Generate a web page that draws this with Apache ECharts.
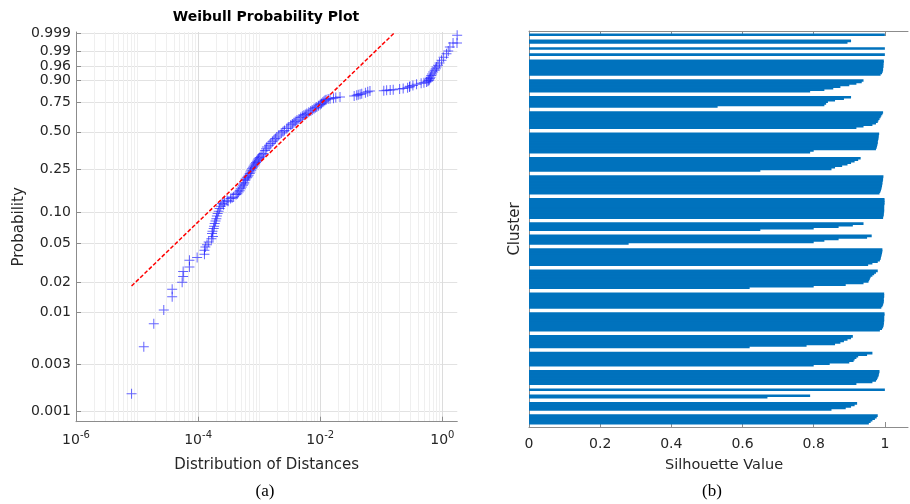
<!DOCTYPE html>
<html><head><meta charset="utf-8">
<script src="https://cdn.jsdelivr.net/npm/echarts@6/dist/echarts.min.js"></script>
<style>html,body{margin:0;padding:0;background:#fff}#c{width:910px;height:504px}</style>
</head><body><div id="c"></div>
<script>
// ---------- (a) Weibull probability plot data ----------
const distances = [
  8.13e-6, 1.29e-5, 1.88e-5, 2.74e-5, 3.76e-5, 3.76e-5, 5.48e-5, 5.69e-5, 5.69e-5, 7.21e-5,
  7.21e-5, 9.64e-5, 1.27e-4, 1.27e-4, 1.315e-4, 1.40e-4, 1.49e-4, 1.65e-4, 1.75e-4, 1.69e-4,
  1.72e-4, 1.80e-4, 1.83e-4, 1.87e-4, 1.93e-4, 1.99e-4, 2.03e-4, 2.09e-4, 2.17e-4, 2.25e-4,
  2.35e-4, 2.47e-4, 2.70e-4, 2.98e-4, 3.40e-4, 3.82e-4, 4.20e-4, 4.60e-4, 5.00e-4, 5.43e-4,
  5.70e-4, 5.93e-4, 6.30e-4, 6.71e-4, 7.20e-4, 7.62e-4, 8.10e-4, 8.63e-4, 9.20e-4, 9.77e-4,
  1.07e-3, 1.18e-3, 1.25e-3, 1.34e-3, 1.55e-3, 1.75e-3, 1.95e-3, 2.30e-3, 2.60e-3, 2.84e-3,
  3.30e-3, 3.70e-3, 4.15e-3, 4.80e-3, 5.40e-3, 6.04e-3, 7.00e-3, 7.90e-3, 8.79e-3, 0.0100,
  0.0110, 0.0120, 0.0125, 0.0135, 0.0145, 0.0165, 0.0180, 0.0211, 0.0360, 0.0396,
  0.0420, 0.0450, 0.0479, 0.0550, 0.0600, 0.0653, 0.110, 0.1225, 0.140, 0.157,
  0.200, 0.2286, 0.270, 0.290, 0.2944, 0.330, 0.3786, 0.450, 0.500, 0.552,
  0.580, 0.600, 0.610, 0.625, 0.640, 0.660, 0.680, 0.708, 0.750, 0.780,
  0.804, 0.850, 0.900, 0.970, 1.050, 1.170, 1.250, 1.330, 1.500, 1.740, 1.750,
  2.6e-4, 3.1e-4, 3.6e-4, 4.4e-4, 4.8e-4, 5.2e-4, 5.6e-4,
  6.0e-4, 6.5e-4, 7.0e-4, 7.4e-4, 7.9e-4, 8.4e-4, 8.9e-4, 9.5e-4, 1.02e-3, 1.12e-3,
  1.30e-3, 1.45e-3, 1.65e-3, 1.85e-3, 2.10e-3, 2.45e-3, 3.00e-3, 3.50e-3, 3.90e-3, 4.50e-3,
  5.10e-3, 5.70e-3, 6.50e-3, 7.40e-3, 8.30e-3, 9.40e-3, 0.0105, 0.0115
];
const probabilities = [
  0.0015, 0.0045, 0.0077, 0.0106, 0.0144, 0.0172, 0.0202, 0.0231, 0.0259, 0.0287,
  0.0335, 0.0357, 0.0385, 0.0422, 0.0455, 0.048, 0.0510, 0.0551, 0.058, 0.0618,
  0.065, 0.0692, 0.073, 0.0775, 0.082, 0.0866, 0.092, 0.0969, 0.102, 0.1082,
  0.114, 0.1208, 0.125, 0.130, 0.135, 0.1396, 0.147, 0.1555, 0.167, 0.1794,
  0.189, 0.1993, 0.210, 0.2211, 0.237, 0.2534, 0.266, 0.280, 0.294, 0.3088,
  0.324, 0.340, 0.360, 0.3842, 0.410, 0.435, 0.458, 0.490, 0.510, 0.526,
  0.555, 0.575, 0.596, 0.620, 0.640, 0.654, 0.675, 0.695, 0.710, 0.730,
  0.750, 0.765, 0.770, 0.775, 0.778, 0.782, 0.786, 0.791, 0.799, 0.8035,
  0.807, 0.811, 0.816, 0.822, 0.829, 0.835, 0.836, 0.8395, 0.842, 0.8442,
  0.848, 0.851, 0.856, 0.862, 0.866, 0.871, 0.878, 0.884, 0.888, 0.8917,
  0.896, 0.900, 0.904, 0.910, 0.917, 0.925, 0.932, 0.9398, 0.946, 0.952,
  0.9575, 0.963, 0.969, 0.9752, 0.981, 0.9867, 0.990, 0.9936, 0.9961, 0.9961, 0.9987,
  0.118, 0.127, 0.137, 0.150, 0.160, 0.173, 0.184,
  0.205, 0.215, 0.229, 0.245, 0.258, 0.273, 0.287, 0.301, 0.316, 0.332,
  0.372, 0.397, 0.422, 0.447, 0.474, 0.500, 0.540, 0.565, 0.585, 0.608,
  0.630, 0.647, 0.665, 0.685, 0.703, 0.720, 0.740, 0.757
];
const fitDistances = [8.13e-6, 0.168];
const fitProbabilities = [0.0185, 0.9992];
const probTickLabels = ['0.001','0.003','0.01','0.02','0.05','0.10','0.25','0.50','0.75','0.90','0.96','0.99','0.999'];
const distTickValues = [1e-6, 1e-4, 1e-2, 1];

// ---------- (b) Silhouette data (one array per cluster, top to bottom) ----------
const silhouetteClusters = [
  [1.0],
  [0.905, 0.895],
  [1.0],
  [1.0],
  [0.997,0.997,0.996,0.996,0.996,0.995,0.995,0.994,0.992,0.988],
  [0.94,0.935,0.92,0.90,0.875,0.855,0.83,0.79],
  [0.905,0.885,0.86,0.84,0.835,0.83,0.53],
  [0.995,0.993,0.99,0.988,0.985,0.982,0.98,0.975,0.965,0.94,0.92],
  [0.984,0.983,0.982,0.982,0.981,0.98,0.98,0.979,0.978,0.977,0.975,0.80,0.79],
  [0.932,0.925,0.915,0.905,0.895,0.88,0.86,0.85,0.65],
  [0.996,0.995,0.995,0.994,0.993,0.993,0.992,0.991,0.99,0.989,0.987,0.985],
  [0.999,0.999,0.999,0.999,0.998,0.998,0.998,0.998,0.998,0.997,0.997,0.996,0.995],
  [0.94,0.91,0.87,0.80,0.65],
  [0.963,0.95,0.87,0.83,0.80,0.28],
  [0.993,0.993,0.992,0.991,0.99,0.989,0.988,0.986,0.98,0.965,0.953],
  [0.98,0.975,0.97,0.965,0.96,0.958,0.956,0.954,0.94,0.89,0.80,0.62],
  [0.998,0.998,0.998,0.997,0.997,0.997,0.996,0.995,0.993,0.99],
  [0.999,0.999,0.998,0.998,0.998,0.998,0.997,0.997,0.996,0.995,0.992,0.986],
  [0.91,0.905,0.895,0.885,0.875,0.86,0.78,0.62],
  [0.965,0.95,0.925,0.92,0.915,0.912,0.90,0.845,0.80],
  [0.985,0.984,0.983,0.982,0.98,0.978,0.975,0.965,0.92],
  [1.0],
  [0.79, 0.67],
  [0.922,0.915,0.905,0.89,0.85],
  [0.98,0.977,0.972,0.965,0.96,0.955]
];
const silhouetteTicks = [0, 0.2, 0.4, 0.6, 0.8, 1];

// ---------- helpers ----------
const wb = p => Math.log(-Math.log(1 - p));   // Weibull probability-paper transform
const yTickVals = probTickLabels.map(s => wb(parseFloat(s)));
const minorX = [];
for (let e = -6; e <= 0; e++) for (let k = 1; k <= 9; k++) {
  const v = k * Math.pow(10, e);
  if (v > 1e-6 && v < 1.76 && !(k === 1 && e % 2 === 0)) minorX.push(v);
}
const GAP = 3, TOP = 2, BOTTOM = 2;
const rowVals = [], tickRows = [];
for (let i = 0; i < TOP; i++) rowVals.push('-');
silhouetteClusters.forEach((c, ci) => {
  if (ci > 0) for (let i = 0; i < GAP; i++) rowVals.push('-');
  const start = rowVals.length;
  c.forEach(v => rowVals.push(v));
  tickRows.push(Math.floor(start + (c.length - 1) / 2));
});
for (let i = 0; i < BOTTOM; i++) rowVals.push('-');
const rowCats = rowVals.map((_, i) => String(i));

const FONT = 'DejaVu Sans';
const TXT = '#262626';
const AX = '#8c8c8c';

const chart = echarts.init(document.getElementById('c'), null, {renderer: 'canvas'});
chart.setOption({
  animation: false,
  backgroundColor: '#fff',
  grid: [
    {left: 76, top: 32, width: 381.3, height: 389.7, containLabel: false},
    {left: 529, top: 31, width: 379, height: 396, containLabel: false}
  ],
  xAxis: [
    { type: 'log', gridIndex: 0, min: 1e-6, max: 1.76, position: 'bottom',
      axisLine: {show: true, onZero: false, lineStyle: {color: AX, width: 1}},
      axisTick: {show: true, inside: true, length: 5, customValues: distTickValues, lineStyle: {color: AX}},
      axisLabel: {customValues: distTickValues, margin: 9, color: TXT,
        formatter: v => '{b|10}{s|' + Math.round(Math.log10(v)) + '}',
        rich: {b: {fontSize: 14, fontFamily: FONT, color: TXT},
               s: {fontSize: 10, fontFamily: FONT, color: TXT, padding: [0, 0, 10, 0]}}},
      splitLine: {show: true, lineStyle: {color: '#dcdcdc', width: 1}},
      name: 'Distribution of Distances', nameLocation: 'middle', nameGap: 36,
      nameTextStyle: {fontSize: 15, fontFamily: FONT, color: TXT}
    },
    { type: 'log', gridIndex: 0, min: 1e-6, max: 1.76, position: 'bottom',
      axisLine: {show: false, onZero: false}, axisLabel: {show: false},
      axisTick: {show: false, customValues: minorX},
      splitLine: {show: true, lineStyle: {color: '#efefef', width: 1}}
    },
    { type: 'value', gridIndex: 1, min: 0, max: 1.065, position: 'bottom',
      axisLine: {show: true, onZero: false, lineStyle: {color: AX, width: 1}},
      axisTick: {show: true, inside: true, length: 5, customValues: silhouetteTicks, lineStyle: {color: AX}},
      axisLabel: {customValues: silhouetteTicks, margin: 10, fontSize: 14, fontFamily: FONT, color: TXT},
      splitLine: {show: false},
      name: 'Silhouette Value', nameLocation: 'middle', nameGap: 31,
      nameTextStyle: {fontSize: 14.5, fontFamily: FONT, color: TXT, padding: [0, 0, 0, 11]}
    },
    { type: 'value', gridIndex: 1, min: 0, max: 1.065, position: 'top',
      axisLine: {show: true, onZero: false, lineStyle: {color: AX, width: 1}},
      axisTick: {show: true, inside: true, length: 5, customValues: silhouetteTicks, lineStyle: {color: AX}},
      axisLabel: {show: false}, splitLine: {show: false}
    }
  ],
  yAxis: [
    { type: 'value', gridIndex: 0, min: -7.158, max: 1.97,
      axisLine: {show: true, onZero: false, lineStyle: {color: AX, width: 1}},
      axisTick: {show: true, inside: true, length: 5, customValues: yTickVals, lineStyle: {color: AX}},
      axisLabel: {customValues: yTickVals, margin: 5, fontSize: 14, fontFamily: FONT, color: TXT,
        formatter: v => { let best = '', bd = 1e9;
          yTickVals.forEach((t, i) => { const d = Math.abs(t - v); if (d < bd) { bd = d; best = probTickLabels[i]; } });
          return best; }},
      splitLine: {show: true, lineStyle: {color: '#e2e2e2', width: 1}},
      name: 'Probability', nameLocation: 'middle', nameGap: 48,
      nameTextStyle: {fontSize: 15, fontFamily: FONT, color: TXT}
    },
    { type: 'category', gridIndex: 1, inverse: true, data: rowCats,
      axisLine: {show: true, onZero: false, lineStyle: {color: AX, width: 1}},
      axisTick: {show: true, inside: true, length: 4, alignWithLabel: true, customValues: tickRows, lineStyle: {color: '#555'}},
      axisLabel: {show: false}, splitLine: {show: false},
      name: 'Cluster', nameLocation: 'middle', nameGap: 6,
      nameTextStyle: {fontSize: 15, fontFamily: FONT, color: TXT}
    }
  ],
  graphic: [
    {type: 'text', x: 266, y: 17, z: 10, style: {text: 'Weibull Probability Plot', fontSize: 14, fontWeight: 'bold', fontFamily: FONT, fill: '#000', align: 'center', verticalAlign: 'middle'}},
    {type: 'text', x: 265, y: 492, z: 10, style: {text: '(a)', fontSize: 17, fontFamily: 'Liberation Serif', fill: '#000', align: 'center', verticalAlign: 'middle'}},
    {type: 'text', x: 712, y: 492, z: 10, style: {text: '(b)', fontSize: 17, fontFamily: 'Liberation Serif', fill: '#000', align: 'center', verticalAlign: 'middle'}}
  ],
  series: [
    { type: 'scatter', xAxisIndex: 0, yAxisIndex: 0, z: 3,
      symbol: 'path://M4.5,0H5.5V4.5H10V5.5H5.5V10H4.5V5.5H0V4.5H4.5Z', symbolSize: 10,
      itemStyle: {color: 'rgba(30,30,255,0.85)'},
      data: distances.map((d, i) => [d, wb(probabilities[i])])
    },
    { type: 'line', xAxisIndex: 0, yAxisIndex: 0, z: 4, symbol: 'none',
      lineStyle: {color: '#ff0000', width: 1.5, type: [4, 2]},
      data: fitDistances.map((d, i) => [d, wb(fitProbabilities[i])])
    },
    { type: 'bar', xAxisIndex: 2, yAxisIndex: 1, barWidth: 2.6,
      itemStyle: {color: '#0072BD'},
      data: rowVals
    }
  ]
});
</script></body></html>
